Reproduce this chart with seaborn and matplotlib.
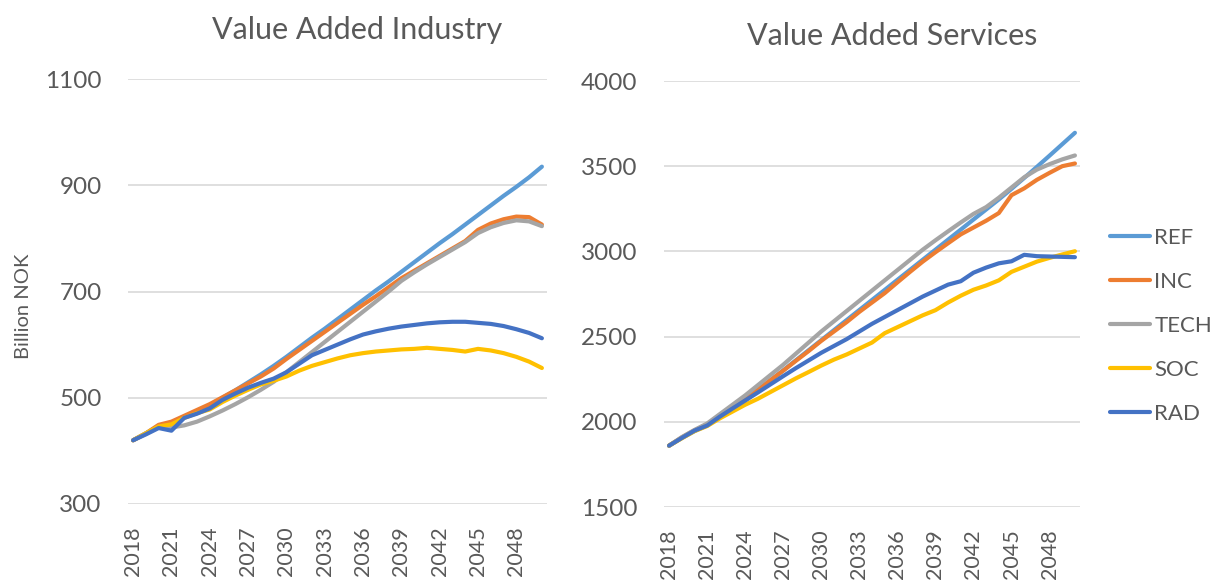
import numpy as np
import pandas as pd
import matplotlib
matplotlib.use("Agg")
import matplotlib.pyplot as plt
import seaborn as sns

years = list(range(2018, 2051))
scenarios = ["REF", "INC", "TECH", "SOC", "RAD"]
colors = ["#5B9BD5", "#ED7D31", "#A5A5A5", "#FFC000", "#4472C4"]

# Value Added Industry (billion NOK)
ind_ref = [420, 433, 447, 452, 463, 474, 486, 500, 514, 529, 544, 560, 577, 595, 613, 630, 648,
           666, 684, 702, 719, 737, 755, 773, 791, 808, 826, 844, 862, 880, 897, 915, 935]
ind_inc = [420, 433, 449, 455, 466, 477, 488, 501, 514, 527, 540, 555, 573, 590, 607, 624, 641,
           658, 675, 691, 708, 725, 739, 753, 767, 781, 795, 816, 828, 836, 841, 840, 826]
ind_tech = [420, 433, 445, 444, 448, 455, 465, 476, 488, 501, 515, 530, 548, 567, 586, 605, 624,
            643, 662, 681, 700, 720, 736, 751, 765, 779, 793, 810, 821, 829, 834, 832, 823]
ind_soc = [420, 433, 446, 450, 462, 471, 478, 492, 504, 515, 525, 532, 540, 551, 560, 567, 574,
           580, 584, 587, 589, 591, 592, 594, 592, 590, 587, 592, 589, 584, 577, 568, 556]
ind_rad = [420, 431, 443, 438, 462, 470, 480, 496, 508, 519, 528, 536, 548, 564, 580, 590, 600,
           610, 619, 625, 630, 634, 637, 640, 642, 643, 643, 641, 639, 635, 629, 622, 612]

# Value Added Services (billion NOK)
srv_ref = [1860, 1905, 1945, 1980, 2030, 2078, 2125, 2184, 2243, 2302, 2361, 2420, 2479, 2538,
           2597, 2656, 2715, 2774, 2833, 2892, 2951, 3010, 3069, 3128, 3187, 3246, 3305, 3367,
           3431, 3496, 3562, 3629, 3696]
srv_inc = [1860, 1908, 1950, 1985, 2035, 2085, 2135, 2190, 2245, 2300, 2358, 2415, 2475, 2530,
           2585, 2645, 2700, 2755, 2818, 2880, 2940, 2995, 3048, 3100, 3140, 3180, 3225, 3330,
           3370, 3420, 3461, 3500, 3516]
srv_tech = [1860, 1910, 1952, 1990, 2045, 2100, 2155, 2215, 2275, 2335, 2400, 2465, 2530, 2590,
            2650, 2710, 2770, 2830, 2890, 2950, 3010, 3065, 3118, 3170, 3220, 3260, 3315, 3375,
            3435, 3480, 3512, 3540, 3563]
srv_soc = [1860, 1903, 1945, 1975, 2020, 2060, 2100, 2135, 2175, 2215, 2255, 2292, 2330, 2365,
           2395, 2430, 2465, 2520, 2555, 2590, 2625, 2655, 2700, 2740, 2775, 2800, 2830, 2880,
           2910, 2940, 2962, 2982, 3001]
srv_rad = [1860, 1905, 1948, 1978, 2030, 2078, 2125, 2172, 2220, 2268, 2315, 2360, 2405, 2445,
           2485, 2530, 2575, 2615, 2655, 2695, 2735, 2770, 2805, 2825, 2875, 2905, 2930, 2942,
           2980, 2972, 2970, 2968, 2966]

titles = ["Value Added Industry", "Value Added Services"]
ind_yticks = [300, 500, 700, 900, 1100]
srv_yticks = [1500, 2000, 2500, 3000, 3500, 4000]
xtick_labels = [str(y) for y in years[::3]]


def long_frame(series):
    rows = []
    for name, vals in zip(scenarios, series):
        for i, (yr, v) in enumerate(zip(years, vals)):
            rows.append({"idx": i, "year": yr, "scenario": name, "value": v})
    return pd.DataFrame(rows)


df_ind = long_frame([ind_ref, ind_inc, ind_tech, ind_soc, ind_rad])
df_srv = long_frame([srv_ref, srv_inc, srv_tech, srv_soc, srv_rad])

sns.set_theme(style="white")
plt.rcParams["font.family"] = ["Lato", "DejaVu Sans"]

fig = plt.figure(figsize=(12.11, 5.81), dpi=100)
ax1 = fig.add_axes([128 / 1211, 1 - 504 / 581, 419 / 1211, 425 / 581])
ax2 = fig.add_axes([664 / 1211, 1 - 507 / 581, 416 / 1211, 426 / 581])

txt = "#595959"
grid = "#D9D9D9"
pal = dict(zip(scenarios, colors))

for ax, df, title, yt, tpos in [(ax1, df_ind, titles[0], ind_yticks, 1.115),
                                (ax2, df_srv, titles[1], srv_yticks, 1.105)]:
    sns.lineplot(data=df, x="idx", y="value", hue="scenario", hue_order=scenarios,
                 palette=pal, linewidth=3.0, ax=ax, legend=(ax is ax2))
    ax.set_xlim(-0.4, len(years) - 1 + 0.4)
    ax.set_ylim(yt[0], yt[-1])
    ax.set_yticks(yt)
    ax.set_yticklabels([str(v) for v in yt], fontsize=17.5, color=txt)
    ax.set_xticks(range(0, len(years), 3))
    ax.set_xticklabels(xtick_labels, rotation=90, fontsize=15.5, color=txt)
    ax.tick_params(axis="y", length=0, pad=19)
    ax.tick_params(axis="x", length=0, pad=16)
    ax.yaxis.grid(True, color=grid, linewidth=1.2)
    ax.xaxis.grid(False)
    for s in ax.spines.values():
        s.set_visible(False)
    ax.set_xlabel("")
    ax.set_ylabel("")
    ax.set_title(title, fontsize=22, color=txt, x=0.548, y=tpos, va="center", pad=0)

ax1.set_ylabel("Billion NOK", fontsize=14.5, color=txt)
ax1.yaxis.set_label_coords(-0.23, 0.466)

handles, labels = ax2.get_legend_handles_labels()
ax2.get_legend().remove()
leg = fig.legend(handles, labels, loc="center left", bbox_to_anchor=(0.9, 0.439),
                 frameon=False, fontsize=16, handlelength=1.8, handletextpad=0.2,
                 labelspacing=1.08, labelcolor=txt)
for line in leg.get_lines():
    line.set_linewidth(3.0)

fig.savefig("out.png", dpi=100, facecolor="white")
